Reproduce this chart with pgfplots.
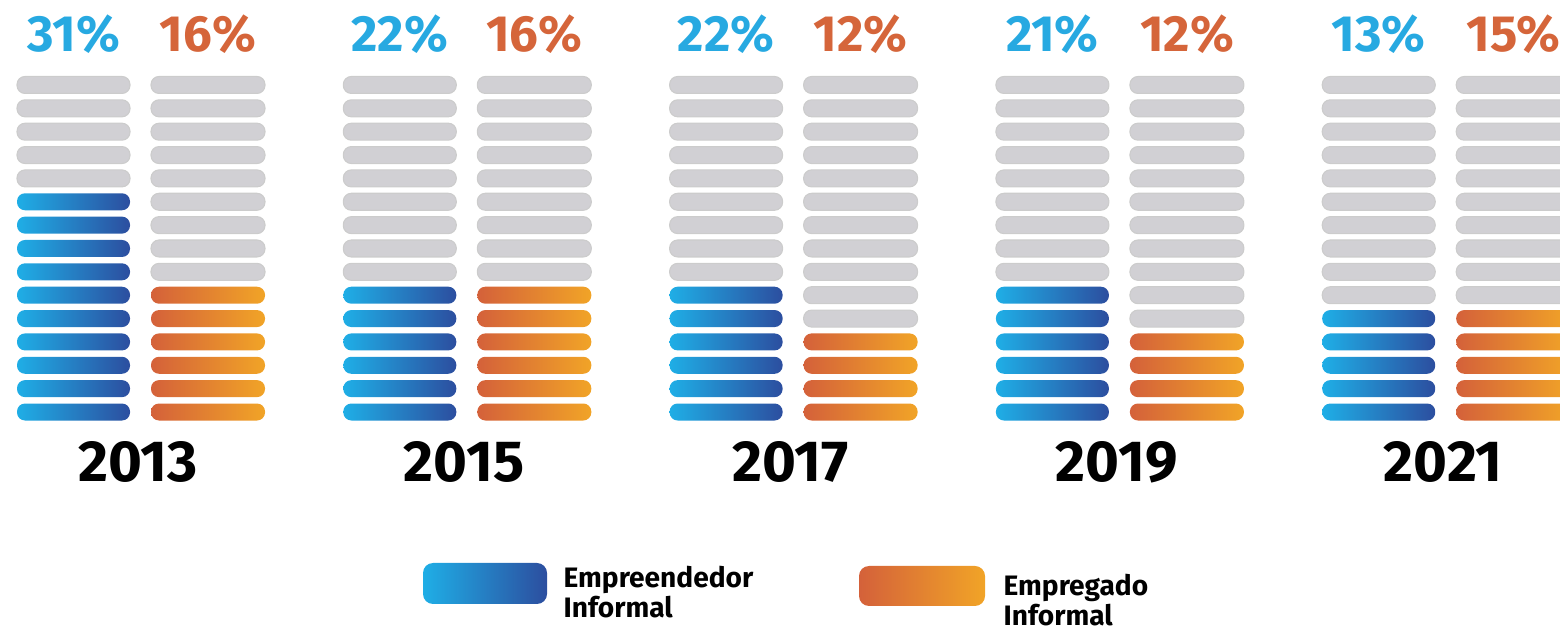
\documentclass[border=0pt]{standalone}
\usepackage{fontspec}
\setmainfont{Fira Sans}
\usepackage{pgfplots}
\pgfplotsset{compat=1.18}
\usepackage{pgfplotstable}
\definecolor{bluelt}{HTML}{1FAEE6}
\definecolor{bluedk}{HTML}{2C4E9F}
\definecolor{orgdk}{HTML}{D4613A}
\definecolor{orglt}{HTML}{F1A427}
\definecolor{pillgray}{HTML}{D1D0D4}
\definecolor{pctblue}{HTML}{27A9E1}
\definecolor{pctorg}{HTML}{D5653A}

% year, filled pills (of 15) and printed share
\pgfplotstableread{
year blue orange bluepct orangepct
2013 10 6 31 16
2015 6 6 22 16
2017 6 4 22 12
2019 6 4 21 12
2021 5 5 13 15
}\datatable

\pgfplotsset{
 graypill/.style={fill=pillgray,draw=black!20,line width=0.3pt,rounded corners=0.08cm},
 bluepill/.style={draw=none,left color=bluelt,right color=bluedk,rounded corners=0.08cm},
 orgpill/.style={draw=none,left color=orgdk,right color=orglt,rounded corners=0.08cm},
}
\tikzset{pctlabel/.style={font=\fontsize{14.5}{16}\selectfont\bfseries},
 legtext/.style={anchor=west,align=left,inner sep=0pt,font=\fontsize{8}{8.6}\selectfont\bfseries}}

% #1 style, #2 left, #3 right, #4 centre (px from top), #5 half height
\newcommand\pill[5]{%
 \pgfmathsetmacro\pxl{#2}\pgfmathsetmacro\pxr{#3}%
 \pgfmathsetmacro\pxm{(\pxl+\pxr)/2}%
 \pgfmathsetmacro\pyb{630-(#4)-(#5)}\pgfmathsetmacro\pyt{630-(#4)+(#5)}%
 \edef\pcmd{\noexpand\addplot[#1] coordinates {(\pxm,\pyb)(\pxr,\pyb)(\pxr,\pyt)(\pxl,\pyt)(\pxl,\pyb)(\pxm,\pyb)};}%
 \pcmd}

\begin{document}
\begin{tikzpicture}
\begin{axis}[width=15.6cm,height=6.3cm,scale only axis,hide axis,
 xmin=0,xmax=1560,ymin=0,ymax=630,clip mode=individual]
\foreach \g in {0,...,4}{%
 \pgfplotstablegetelem{\g}{blue}\of\datatable \edef\nB{\pgfplotsretval}%
 \pgfplotstablegetelem{\g}{orange}\of\datatable \edef\nO{\pgfplotsretval}%
 \pgfmathsetmacro\gx{17+326.3*\g}%
 \edef\gxb{\gx}%
 \foreach \r in {0,...,14}{%
  \ifnum\r<\nB \def\sty{bluepill}\else\def\sty{graypill}\fi
  \pill{\sty}{\gxb}{\gxb+113}{412-23.36*\r}{8.5}%
  \ifnum\r<\nO \def\sty{orgpill}\else\def\sty{graypill}\fi
  \pill{\sty}{\gxb+134}{\gxb+248}{412-23.36*\r}{8.5}%
 }%
 \pgfplotstablegetelem{\g}{bluepct}\of\datatable \edef\pb{\pgfplotsretval}%
 \pgfplotstablegetelem{\g}{orangepct}\of\datatable \edef\po{\pgfplotsretval}%
 \pgfplotstablegetelem{\g}{year}\of\datatable \edef\yr{\pgfplotsretval}%
 \pgfmathsetmacro\cb{\gxb+56.5}\pgfmathsetmacro\co{\gxb+191}\pgfmathsetmacro\cy{\gxb+121}%
 \edef\tcmd{%
  \noexpand\node[pctlabel,text=pctblue] at (axis cs:\cb,596) {\pb\noexpand\%};
  \noexpand\node[pctlabel,text=pctorg] at (axis cs:\co,596) {\po\noexpand\%};
  \noexpand\node[font=\noexpand\fontsize{16.5}{18}\noexpand\selectfont\noexpand\bfseries] at (axis cs:\cy,168) {\yr};}%
 \tcmd
}
% legend
\pill{bluepill,rounded corners=0.1cm}{423}{547}{583.5}{20.5}
\pill{orgpill,rounded corners=0.1cm}{859}{985}{586}{20}
\node[legtext] at (axis cs:563,38) {Empreendedor\\Informal};
\node[legtext] at (axis cs:1003,30) {Empregado\\Informal};
\end{axis}
\pgfresetboundingbox
\path (current axis.south west) rectangle (current axis.north east);
\end{tikzpicture}
\end{document}
